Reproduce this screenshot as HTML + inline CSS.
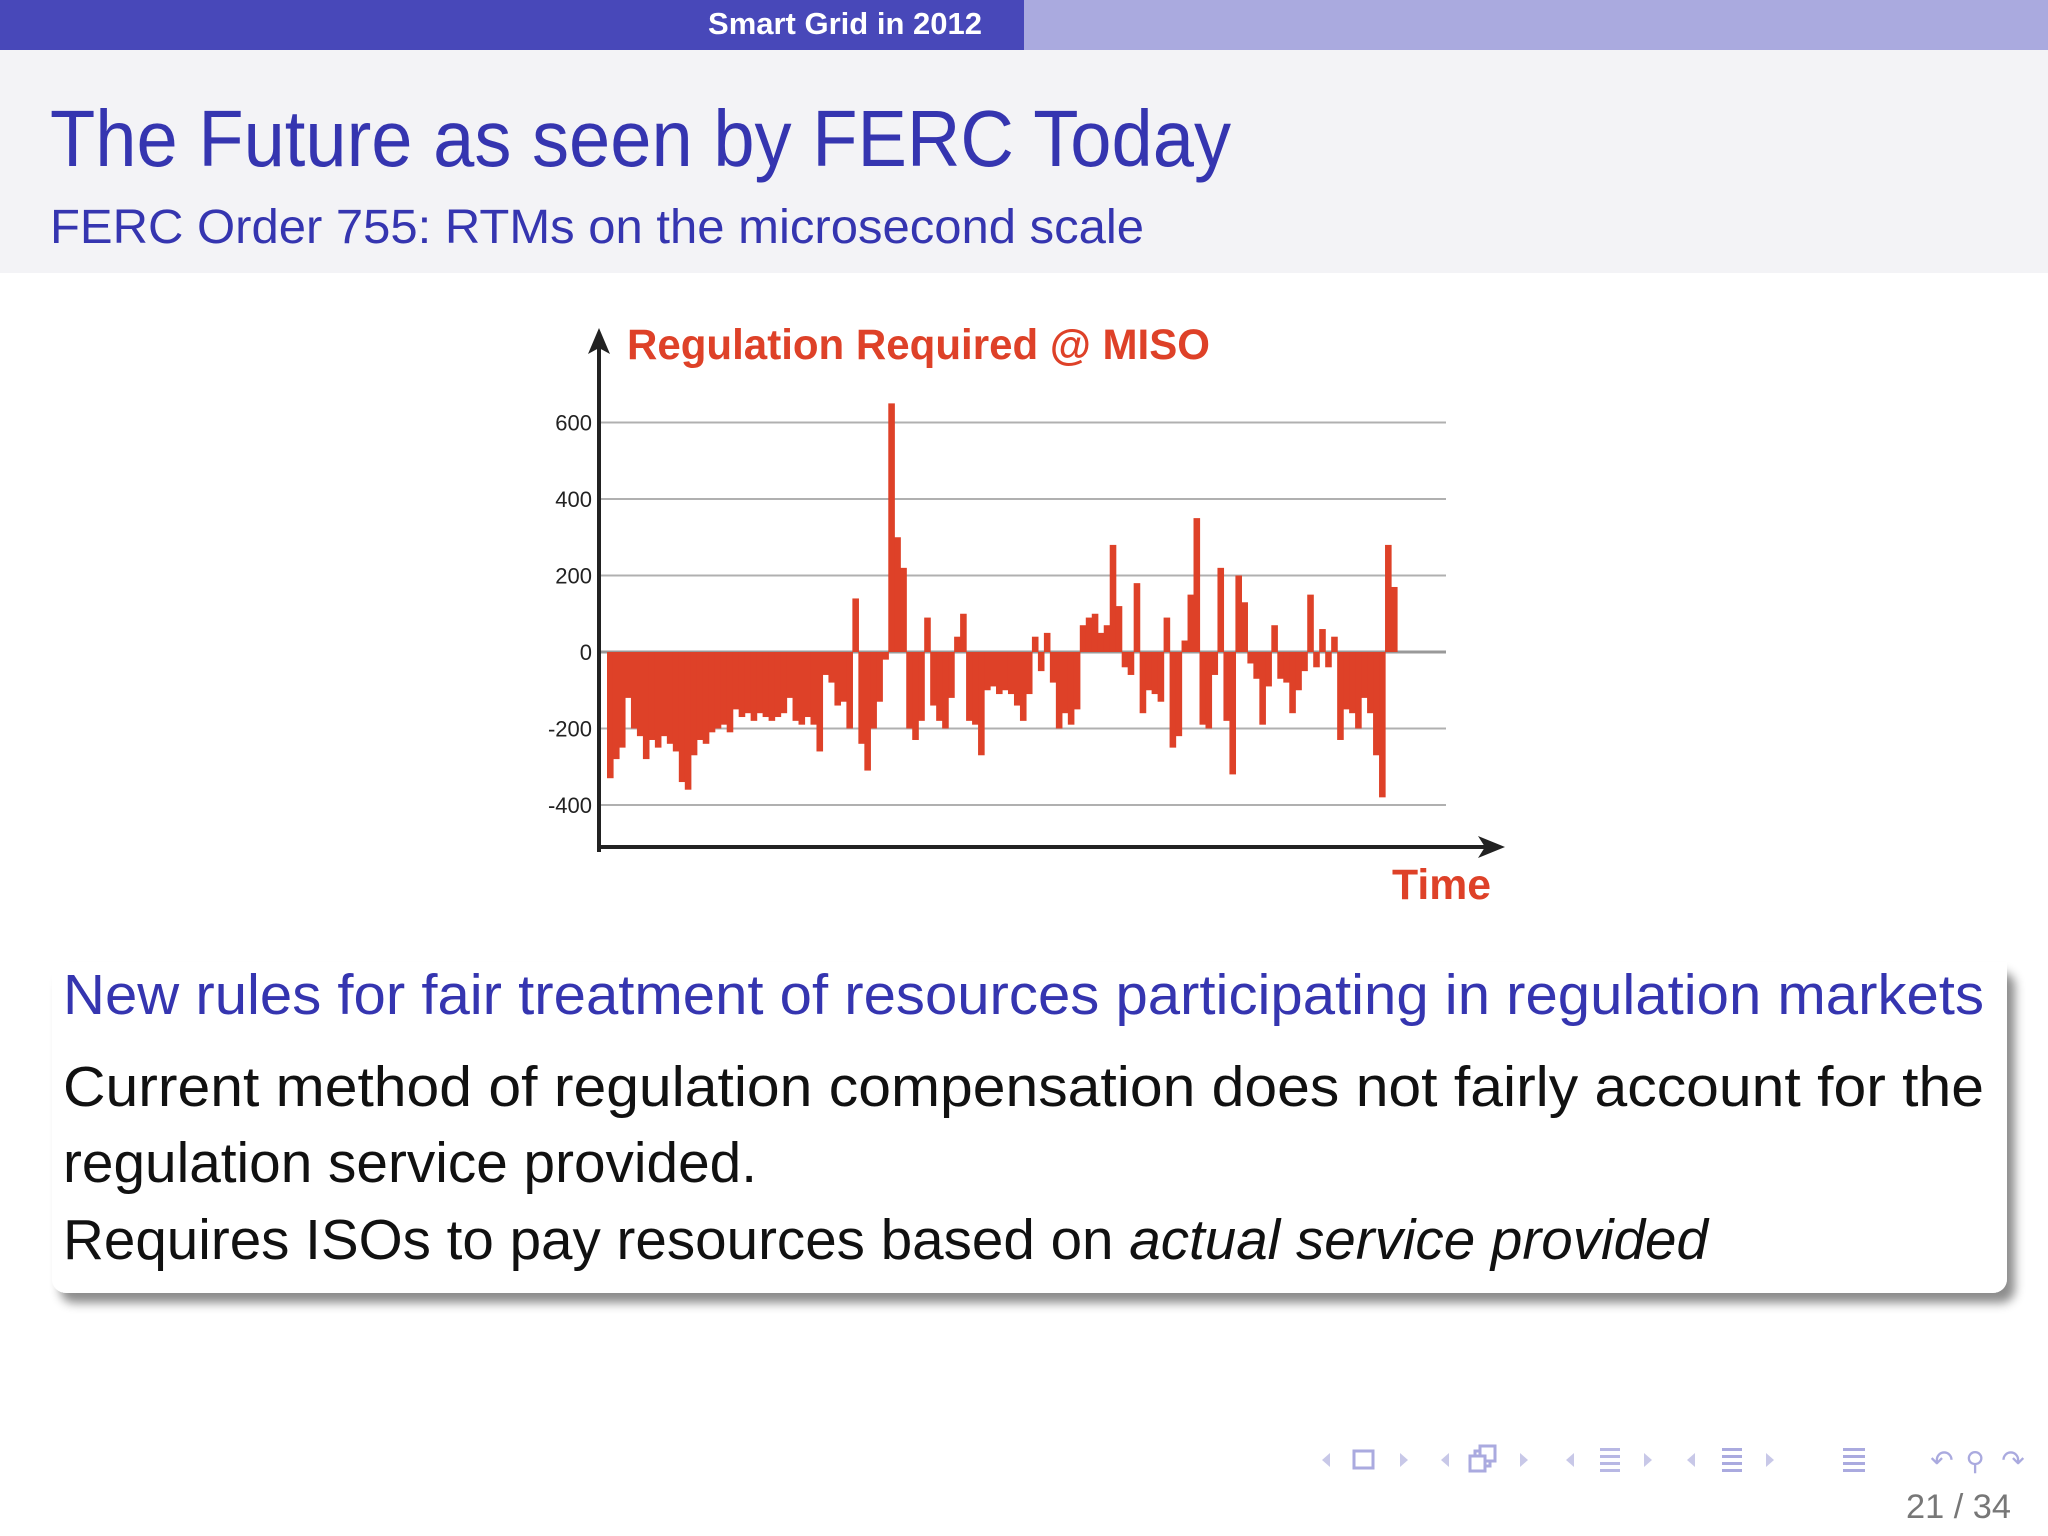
<!DOCTYPE html>
<html><head><meta charset="utf-8"><style>
html,body{margin:0;padding:0;background:#fff;}
svg{display:block;font-family:"Liberation Sans","DejaVu Sans",sans-serif;}
</style></head><body>
<svg id="slide" width="2048" height="1536" viewBox="0 0 2048 1536" xmlns="http://www.w3.org/2000/svg">
<defs>
<filter id="sh" x="-5%" y="-10%" width="115%" height="130%"><feDropShadow dx="8" dy="10" stdDeviation="5" flood-color="#000" flood-opacity="0.45"/></filter>
</defs>
<rect x="0" y="0" width="1024" height="50" fill="#4848b9"/>
<rect x="1024" y="0" width="1024" height="50" fill="#aaaadf"/>
<text x="845" y="34" text-anchor="middle" font-size="31" font-weight="bold" fill="#fff">Smart Grid in 2012</text>
<rect x="0" y="50" width="2048" height="223" fill="#f3f3f6"/>
<text x="50" y="166" font-size="80" fill="#3535b0" textLength="1181" lengthAdjust="spacingAndGlyphs">The Future as seen by FERC Today</text>
<text x="50" y="243" font-size="48" fill="#3535b0" textLength="1094" lengthAdjust="spacingAndGlyphs">FERC Order 755: RTMs on the microsecond scale</text>

<g id="chart">
  <g id="grid"></g>
  <g id="bars"></g>
  <g id="ticks"></g>
  <line x1="599" y1="852" x2="599" y2="340" stroke="#222" stroke-width="4"/>
  <polygon points="599,328 588,354 599,348 610,354" fill="#222"/>
  <line x1="597" y1="847" x2="1490" y2="847" stroke="#222" stroke-width="4"/>
  <polygon points="1505,847 1478,836 1485,847 1478,858" fill="#222"/>
  <text x="627" y="359" font-size="43" font-weight="bold" fill="#de4128" textLength="583" lengthAdjust="spacingAndGlyphs">Regulation Required @ MISO</text>
  <text x="1392" y="899" font-size="43" font-weight="bold" fill="#de4128" textLength="99" lengthAdjust="spacingAndGlyphs">Time</text>
</g>

<rect x="52" y="962" width="1955" height="331" rx="14" fill="#fff" filter="url(#sh)"/>
<rect x="52" y="962" width="1955" height="40" fill="#fff"/>
<text x="63" y="1014" font-size="57" fill="#3535b0" textLength="1921" lengthAdjust="spacingAndGlyphs">New rules for fair treatment of resources participating in regulation markets</text>
<text x="63" y="1106" font-size="57" fill="#111" textLength="1921" lengthAdjust="spacingAndGlyphs">Current method of regulation compensation does not fairly account for the</text>
<text x="63" y="1182" font-size="57" fill="#111" textLength="694" lengthAdjust="spacingAndGlyphs">regulation service provided.</text>
<text x="63" y="1259" font-size="57" fill="#111" textLength="1645" lengthAdjust="spacingAndGlyphs">Requires ISOs to pay resources based on <tspan font-style="italic">actual service provided</tspan></text>

<g fill="#c8c8e8" stroke="none">
  <polygon points="1330,1453 1322,1460 1330,1467"/>
  <rect x="1354" y="1451" width="19" height="17" fill="none" stroke="#aaaadf" stroke-width="3"/>
  <polygon points="1400,1453 1408,1460 1400,1467"/>
  <polygon points="1449,1453 1441,1460 1449,1467"/>
  <rect x="1475" y="1451" width="15" height="15" fill="none" stroke="#aaaadf" stroke-width="3"/>
  <rect x="1480" y="1446" width="15" height="15" fill="#fff" stroke="#aaaadf" stroke-width="3"/>
  <rect x="1470" y="1456" width="15" height="15" fill="#fff" stroke="#aaaadf" stroke-width="3"/>
  <polygon points="1520,1453 1528,1460 1520,1467"/>
  <polygon points="1574,1453 1566,1460 1574,1467"/>
  <g fill="#b8b8e4"><rect x="1600" y="1448" width="20" height="3"/><rect x="1600" y="1455" width="20" height="3"/><rect x="1600" y="1462" width="20" height="3"/><rect x="1600" y="1469" width="20" height="3"/></g>
  <polygon points="1644,1453 1652,1460 1644,1467"/>
  <polygon points="1695,1453 1687,1460 1695,1467"/>
  <g fill="#aaaadf"><rect x="1722" y="1448" width="20" height="3"/><rect x="1722" y="1455" width="20" height="3"/><rect x="1722" y="1462" width="20" height="3"/><rect x="1722" y="1469" width="20" height="3"/></g>
  <polygon points="1766,1453 1774,1460 1766,1467"/>
  <g fill="#aaaadf"><rect x="1843" y="1448" width="22" height="3"/><rect x="1843" y="1455" width="22" height="3"/><rect x="1843" y="1462" width="22" height="3"/><rect x="1843" y="1469" width="22" height="3"/></g>
  <text x="1942" y="1470" font-size="28" text-anchor="middle" fill="#aaaadf">↶</text>
  <text x="1975" y="1470" font-size="26" text-anchor="middle" fill="#aaaadf">⚲</text>
  <text x="2013" y="1470" font-size="28" text-anchor="middle" fill="#aaaadf">↷</text>
</g>
<text x="2011" y="1518" font-size="34" text-anchor="end" fill="#777" textLength="105" lengthAdjust="spacingAndGlyphs">21 / 34</text>
</svg>
<script>
const tickValues = [600, 400, 200, 0, -200, -400];
const tickLabels = ["600", "400", "200", "0", "-200", "-400"];
const regulationValues = [-330,-280,-250,-120,-200,-220,-280,-230,-250,-220,-240,-260,-340,-360,-270,-230,-240,-210,-200,-190,-210,-150,-170,-160,-180,-160,-170,-180,-170,-160,-120,-180,-190,-170,-190,-260,-60,-80,-140,-130,-200,140,-240,-310,-200,-130,-20,650,300,220,-200,-230,-180,90,-140,-180,-200,-120,40,100,-180,-190,-270,-100,-90,-110,-100,-110,-140,-180,-110,40,-50,50,-80,-200,-160,-190,-150,70,90,100,50,70,280,120,-40,-60,180,-160,-100,-110,-130,90,-250,-220,30,150,350,-190,-200,-60,220,-180,-320,200,130,-30,-70,-190,-90,70,-70,-80,-160,-100,-50,150,-40,60,-40,40,-230,-150,-160,-200,-120,-160,-270,-380,280,170];

const NS = "http://www.w3.org/2000/svg";
function yScale(v){ return 652 - v * (76.5/200); }
const X0 = 607, X1 = 1397;
function xScale(i){ return X0 + i * (X1 - X0) / regulationValues.length; }

const grid = document.getElementById('grid');
const ticks = document.getElementById('ticks');
tickValues.forEach((v, k) => {
  const y = yScale(v);
  const ln = document.createElementNS(NS, 'line');
  ln.setAttribute('x1', 599); ln.setAttribute('x2', 1446);
  ln.setAttribute('y1', y); ln.setAttribute('y2', y);
  ln.setAttribute('stroke', v === 0 ? '#999' : '#b0b0b0');
  ln.setAttribute('stroke-width', v === 0 ? 3 : 2);
  
  
  grid.appendChild(ln);
  const t = document.createElementNS(NS, 'text');
  t.setAttribute('x', 592); t.setAttribute('y', y + 8);
  t.setAttribute('text-anchor', 'end');
  t.setAttribute('font-size', '22');
  t.setAttribute('fill', '#222');
  t.textContent = tickLabels[k];
  
  
  ticks.appendChild(t);
});

const bars = document.getElementById('bars');
const bw = (X1 - X0) / regulationValues.length;
regulationValues.forEach((v, i) => {
  const r = document.createElementNS(NS, 'rect');
  const y0 = yScale(0), y1 = yScale(v);
  r.setAttribute('x', xScale(i));
  r.setAttribute('width', bw + 0.6);
  r.setAttribute('y', Math.min(y0, y1));
  r.setAttribute('height', Math.abs(y1 - y0));
  r.setAttribute('fill', '#de4128');
  
  
  bars.appendChild(r);
});
</script>
</body></html>
